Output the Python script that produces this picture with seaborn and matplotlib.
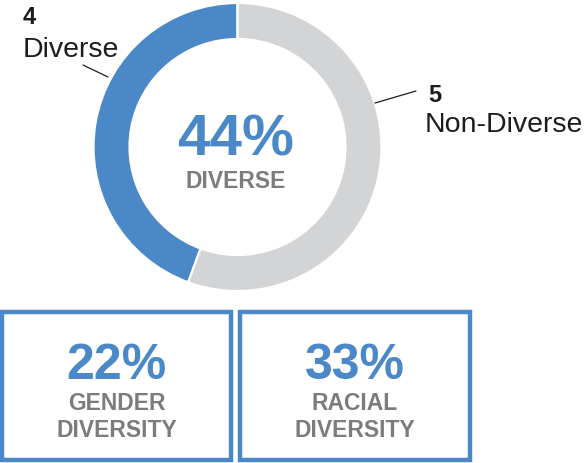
import matplotlib
matplotlib.use("Agg")
import matplotlib.pyplot as plt
import seaborn as sns
from matplotlib.patches import Rectangle

# ---- data ----
categories = ["Diverse", "Non-Diverse"]
counts = [4, 5]
center_pct = "44%"
center_label = "DIVERSE"
box_values = ["22%", "33%"]
box_labels = [["GENDER", "DIVERSITY"], ["RACIAL", "DIVERSITY"]]

# ---- style ----
sns.set_theme(style="white")
plt.rcParams["font.family"] = ["Liberation Sans", "DejaVu Sans"]

BLUE = "#4a88c8"
GREY = "#d3d4d6"
TXT_GREY = "#7b7c7e"
DARK = "#1c1c1c"

W, H = 584, 464
fig = plt.figure(figsize=(W / 100, H / 100), dpi=100)
ax = fig.add_axes([0, 0, 1, 1])

def Y(y):  # pixel-from-top -> data y
    return H - y

# donut
ax.pie(counts, colors=[BLUE, GREY], startangle=90, counterclock=True,
       radius=144, center=(237.5, Y(148)),
       wedgeprops=dict(width=36, edgecolor="white", linewidth=1.6))

# centre text
ax.text(236, Y(155), center_pct, ha="center", va="baseline", color=BLUE,
        fontsize=42, fontweight="bold")
ax.text(236, Y(188), center_label, ha="center", va="baseline", color=TXT_GREY,
        fontsize=16.5, fontweight="bold")

# labels with leader lines
ax.text(23, Y(24), str(counts[0]), ha="left", va="baseline", color=DARK,
        fontsize=17, fontweight="bold")
ax.text(23, Y(57), categories[0], ha="left", va="baseline", color=DARK,
        fontsize=20.5)
ax.plot([83, 108], [Y(66), Y(78)], color=DARK, lw=0.9)

ax.text(428, Y(102), str(counts[1]), ha="left", va="baseline", color=DARK,
        fontsize=17, fontweight="bold")
ax.text(425, Y(132), categories[1], ha="left", va="baseline", color=DARK,
        fontsize=20.5)
ax.plot([375, 416], [Y(104), Y(92)], color=DARK, lw=0.9)

# boxes
boxes = [(2, 231), (240, 470)]
for (x0, x1), val, lab in zip(boxes, box_values, box_labels):
    ax.add_patch(Rectangle((x0, Y(461)), x1 - x0, 461 - 313, fill=False,
                           edgecolor=BLUE, lw=3.2))
    cx = (x0 + x1) / 2
    ax.text(cx, Y(379), val, ha="center", va="baseline", color=BLUE,
            fontsize=36, fontweight="bold")
    ax.text(cx, Y(410), lab[0], ha="center", va="baseline", color=TXT_GREY,
            fontsize=16.5, fontweight="bold")
    ax.text(cx, Y(437), lab[1], ha="center", va="baseline", color=TXT_GREY,
            fontsize=16.5, fontweight="bold")

ax.set_xlim(0, W)
ax.set_ylim(0, H)
ax.set_aspect("auto")
ax.axis("off")

fig.savefig("out.png", dpi=100, facecolor="white")
